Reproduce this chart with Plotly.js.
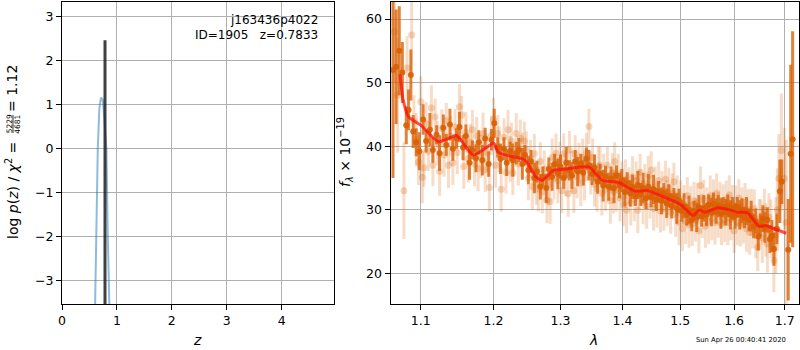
<!DOCTYPE html>
<html>
<head>
<meta charset="utf-8">
<script src="https://cdn.plot.ly/plotly-3.0.1.min.js"></script>
<style>html,body{margin:0;padding:0;background:#fff;}#chart{width:800px;height:350px;}</style>
</head>
<body>
<div id="chart"></div>
<script>
// ---- Left panel: redshift PDF ----
const zGrid  = [0.590, 0.603, 0.621, 0.652, 0.680, 0.694, 0.710, 0.725, 0.743, 0.770, 0.809, 0.834, 0.864, 0.880];
const logPz  = [-4.50, -3.55, -2.00, 0.00, 0.90, 1.10, 1.15, 1.13, 1.10, 0.70, 0.00, -2.00, -3.55, -4.50];
const zBest  = [0.7833, 0.7833];
const zBestLine = [-4.0, 2.45];
const leftXTicks = [0, 1, 2, 3, 4];
const leftYTicks = [-3, -2, -1, 0, 1, 2, 3];

// ---- Right panel: spectrum ----
const lamModel  = [1.073,1.077,1.084,1.100,1.124,1.148,1.154,1.171,1.189,1.200,1.206,1.214,1.231,1.246,1.254,1.262,1.272,1.289,1.300,1.345,1.367,1.385,1.396,1.410,1.422,1.443,1.460,1.471,1.501,1.523,1.535,1.544,1.569,1.590,1.607,1.626,1.648,1.662,1.678,1.703];
const fluxModel = [51.3,47.3,44.6,43.3,40.7,41.7,41.0,38.6,39.7,40.5,39.1,38.7,38.3,37.8,36.6,35.2,34.6,36.2,36.3,36.7,34.6,34.4,34.2,33.4,32.9,33.0,32.4,32.0,30.8,29.1,29.9,29.6,30.3,30.0,29.6,29.5,27.4,27.5,27.0,26.3];

const lamLight = [
  1.066,1.070,1.078,1.082,1.088,1.091,1.094,1.097,1.100,1.102,
  1.104,1.107,1.110,1.114,1.116,1.119,1.122,1.125,1.128,1.131,
  1.134,1.137,1.140,1.143,1.146,1.149,1.152,1.155,1.158,1.161,
  1.164,1.167,1.170,1.173,1.176,1.178,1.182,1.185,1.188,1.191,
  1.194,1.197,1.200,1.203,1.206,1.208,1.211,1.215,1.218,1.221,
  1.224,1.226,1.228,1.233,1.236,1.239,1.242,1.245,1.248,1.251,
  1.254,1.257,1.260,1.263,1.266,1.269,1.272,1.275,1.279,1.281,
  1.284,1.287,1.290,1.293,1.296,1.299,1.302,1.305,1.308,1.312,
  1.314,1.317,1.321,1.323,1.326,1.329,1.332,1.335,1.338,1.341,
  1.345,1.348,1.351,1.354,1.358,1.360,1.363,1.366,1.369,1.372,
  1.375,1.380,1.383,1.385,1.387,1.390,1.393,1.396,1.399,1.402,
  1.405,1.407,1.411,1.414,1.417,1.420,1.423,1.426,1.429,1.430,
  1.435,1.438,1.441,1.444,1.447,1.449,1.453,1.456,1.459,1.462,
  1.465,1.468,1.471,1.474,1.477,1.480,1.483,1.486,1.489,1.492,
  1.495,1.498,1.501,1.504,1.507,1.510,1.513,1.516,1.519,1.522,
  1.525,1.528,1.531,1.534,1.537,1.540,1.543,1.546,1.549,1.552,
  1.555,1.558,1.561,1.564,1.567,1.570,1.573,1.576,1.579,1.582,
  1.585,1.588,1.591,1.594,1.597,1.600,1.603,1.606,1.609,1.612,
  1.615,1.618,1.621,1.624,1.627,1.630,1.633,1.636,1.639,1.642,
  1.646,1.649,1.652,1.655,1.659,1.662,1.665,1.668,1.672,1.678,
  1.682,1.685,1.688,1.693,1.699,1.703];
const fluxLight = [
  58.0,48.0,33.0,52.3,57.5,44.0,41.0,37.5,47.0,35.1,
  36.6,43.5,39.2,46.0,37.0,44.6,40.5,36.0,42.8,38.6,
  44.0,37.0,41.6,37.4,43.0,39.0,46.2,44.9,36.8,42.2,
  38.0,40.6,42.6,37.2,41.6,36.5,38.4,42.0,36.3,39.0,
  33.5,41.7,44.2,37.0,42.0,39.5,33.2,41.4,35.9,42.6,
  38.0,40.8,35.8,42.0,37.2,41.2,38.5,40.8,39.4,35.0,
  38.0,33.6,38.8,34.2,33.2,37.6,32.8,36.4,31.5,34.0,
  31.3,38.2,35.0,38.9,34.6,37.8,33.0,38.8,35.6,32.5,
  39.4,36.0,33.0,38.8,35.2,37.4,34.2,38.2,35.0,39.0,
  43.1,35.8,38.2,34.0,33.3,36.8,37.0,32.6,35.6,33.2,
  37.0,31.4,35.8,32.8,37.6,33.2,35.6,31.8,34.6,30.8,
  34.8,29.9,33.8,31.0,35.2,31.6,34.6,29.9,33.2,35.9,
  31.2,34.2,30.6,35.4,32.0,36.2,30.2,33.6,30.8,34.6,
  29.8,33.0,30.2,34.8,31.0,33.4,29.6,32.6,34.4,29.2,
  32.2,28.0,31.6,27.0,30.8,28.0,32.2,27.6,30.6,27.8,
  31.4,28.4,31.0,26.7,33.8,29.0,31.6,27.4,30.6,28.2,
  32.2,28.6,31.8,28.0,32.6,29.2,31.4,27.8,30.8,28.4,
  31.6,28.0,32.3,28.6,31.0,26.7,30.6,28.0,31.8,27.6,
  30.4,28.2,31.2,27.0,30.0,26.4,29.6,27.0,30.2,26.0,
  24.1,28.6,28.0,25.6,29.9,26.8,24.6,28.8,27.0,22.0,
  26.0,30.0,34.9,39.3,34.9,28.0];
const errLight = [
  8.0,9.0,7.6,5.0,6.0,4.0,4.2,3.6,4.0,4.1,
  3.0,3.4,3.1,3.6,3.3,2.9,3.5,3.8,3.0,3.4,
  2.8,3.6,3.1,3.5,2.9,3.4,3.6,3.0,3.5,3.2,
  3.7,2.9,3.1,3.5,3.0,3.6,3.4,3.3,3.5,3.0,
  3.8,3.1,3.4,3.5,2.9,3.6,3.5,3.0,3.4,3.1,
  3.6,2.9,3.5,3.2,3.4,3.0,3.6,3.1,2.9,3.5,
  3.0,3.6,3.1,3.4,3.5,3.0,3.4,2.9,3.6,3.3,
  3.5,3.0,3.4,3.1,3.6,2.9,3.5,3.2,3.4,3.6,
  3.0,3.3,3.5,2.9,3.4,3.1,3.6,3.0,3.5,3.1,
  2.8,3.4,3.0,3.5,3.6,3.1,3.0,3.5,3.2,3.4,
  2.9,3.6,3.1,3.4,3.0,3.5,3.2,3.6,3.0,3.4,
  3.1,3.6,2.9,3.5,3.2,3.4,3.0,3.6,3.1,2.9,
  3.5,3.0,3.6,3.1,3.4,3.0,3.5,3.2,3.6,3.0,
  3.4,3.1,3.5,2.9,3.6,3.2,3.4,3.1,3.0,3.5,
  3.2,3.6,3.0,3.5,3.1,3.4,2.9,3.6,3.1,3.5,
  3.0,3.4,3.2,3.6,3.0,3.5,3.1,3.4,2.9,3.6,
  3.2,3.4,3.0,3.5,3.1,3.6,3.0,3.4,3.2,3.5,
  3.0,3.6,3.1,3.4,2.9,3.5,3.2,3.6,3.0,3.4,
  3.1,3.5,3.0,3.6,3.2,3.5,3.7,3.1,3.0,3.6,
  3.8,3.1,3.6,4.0,3.4,4.2,4.5,3.8,4.6,5.0,
  6.0,6.5,7.0,9.0,8.0,13.0];

const lamDark = [
  1.064,1.068,1.072,1.076,1.081,1.084,1.087,1.090,1.094,1.098,
  1.103,1.107,1.112,1.116,1.121,1.125,1.130,1.134,1.139,1.143,
  1.148,1.152,1.157,1.161,1.166,1.170,1.175,1.179,1.184,1.188,
  1.193,1.197,1.201,1.206,1.210,1.215,1.219,1.224,1.228,1.233,
  1.237,1.242,1.246,1.251,1.255,1.260,1.264,1.269,1.273,1.278,
  1.282,1.287,1.291,1.296,1.300,1.305,1.309,1.314,1.318,1.323,
  1.327,1.332,1.336,1.341,1.345,1.350,1.354,1.359,1.363,1.368,
  1.372,1.377,1.381,1.386,1.390,1.395,1.399,1.404,1.408,1.413,
  1.417,1.422,1.426,1.431,1.435,1.440,1.444,1.449,1.453,1.458,
  1.462,1.467,1.471,1.476,1.480,1.485,1.489,1.494,1.498,1.503,
  1.507,1.512,1.516,1.521,1.525,1.530,1.534,1.539,1.543,1.548,
  1.552,1.557,1.561,1.566,1.570,1.575,1.579,1.584,1.588,1.593,
  1.597,1.602,1.606,1.611,1.615,1.620,1.624,1.629,1.633,1.638,
  1.642,1.647,1.651,1.656,1.660,1.665,1.670,1.674,1.678,1.684,
  1.690,1.694,1.707,1.712,1.716];
const fluxDark = [
  52.0,52.5,55.0,51.6,43.3,45.7,51.2,42.3,40.6,39.2,
  44.2,40.8,42.6,39.4,41.8,38.9,42.9,40.2,43.4,39.6,
  41.2,43.0,39.8,41.6,37.4,39.4,38.1,40.6,37.8,41.2,
  37.2,41.0,43.6,39.8,38.0,39.6,37.4,39.2,37.8,38.9,
  39.4,37.2,38.6,36.2,37.6,35.0,36.0,33.6,35.2,33.4,
  36.4,35.2,37.2,35.6,36.8,35.0,37.4,36.2,35.4,37.6,
  36.0,37.2,35.8,38.0,37.0,35.6,36.6,34.4,35.6,33.8,
  35.2,33.6,34.9,33.4,35.4,33.8,34.6,32.8,34.2,32.6,
  33.6,32.2,33.9,32.4,33.4,31.8,33.6,32.0,33.2,31.6,
  32.8,31.4,32.6,31.0,32.2,30.6,31.8,30.2,31.4,29.8,
  30.6,29.2,30.0,28.4,29.8,28.8,30.4,29.0,30.2,29.2,
  30.8,29.6,30.9,29.8,30.6,29.4,30.4,29.6,30.6,29.2,
  30.2,29.0,30.4,29.2,29.9,28.8,29.8,28.4,29.0,27.4,
  28.2,25.8,27.6,28.6,27.2,28.4,25.4,25.9,23.8,27.0,
  32.9,34.4,23.7,38.8,41.1];
const errDark = [
  17.0,9.0,7.0,4.8,3.0,3.2,4.0,2.6,2.2,3.0,
  2.4,1.8,2.6,2.0,1.5,2.8,2.1,1.7,2.5,1.9,
  1.6,2.4,2.0,1.8,2.7,1.5,2.2,1.9,2.4,1.7,
  2.0,1.7,2.3,1.6,2.4,1.8,2.1,1.5,2.6,1.8,
  1.9,2.5,1.6,2.2,1.8,2.4,1.7,2.0,1.6,2.3,
  1.8,2.2,1.6,2.4,1.9,1.7,2.5,1.6,2.1,1.8,
  2.3,1.6,2.0,1.8,2.4,1.7,2.1,1.9,1.6,2.5,
  1.7,2.2,1.9,2.4,1.6,2.0,1.8,2.3,1.7,2.1,
  1.9,1.6,2.2,1.8,2.4,1.7,2.0,1.6,2.3,1.8,
  1.7,2.1,1.6,2.3,1.8,2.0,1.6,2.4,1.9,1.7,
  2.0,1.7,2.2,1.8,1.6,2.3,1.9,1.7,2.1,1.8,
  1.6,2.2,1.8,2.0,1.7,2.4,1.6,2.1,1.8,2.3,
  1.8,2.0,1.6,2.3,1.9,1.7,2.2,1.8,2.4,1.9,
  2.0,2.2,1.8,2.1,2.4,2.0,2.2,2.5,2.6,2.4,
  5.0,3.5,8.0,14.0,17.0];
const rightXTicks = [1.1, 1.2, 1.3, 1.4, 1.5, 1.6, 1.7];
const rightYTicks = [20, 30, 40, 50, 60];

const FONT = 'DejaVu Sans, sans-serif';
const W = 800, H = 350;
const px = v => v / W;
const py = v => 1 - v / H;

const traces = [
  {x: zGrid, y: logPz, xaxis: 'x', yaxis: 'y', mode: 'lines', type: 'scatter',
   line: {color: 'rgba(31,119,180,0.5)', width: 2}, hoverinfo: 'skip'},
  {x: zBest, y: zBestLine, xaxis: 'x', yaxis: 'y', mode: 'lines', type: 'scatter',
   line: {color: 'rgba(30,30,30,0.85)', width: 3}, hoverinfo: 'skip'},
  {x: lamLight, y: fluxLight, xaxis: 'x2', yaxis: 'y2', mode: 'markers', type: 'scatter',
   marker: {color: 'rgba(217,95,2,0.25)', size: 7, line: {width: 0}},
   error_y: {type: 'data', array: errLight, visible: true, color: 'rgba(217,95,2,0.22)', thickness: 3, width: 0},
   hoverinfo: 'skip'},
  {x: lamDark, y: fluxDark, xaxis: 'x2', yaxis: 'y2', mode: 'markers', type: 'scatter',
   marker: {color: 'rgba(217,95,2,0.9)', size: 6, line: {width: 0}},
   error_y: {type: 'data', array: errDark, visible: true, color: 'rgba(217,95,2,0.78)', thickness: 3, width: 0},
   hoverinfo: 'skip'},
  {x: lamModel, y: fluxModel, xaxis: 'x2', yaxis: 'y2', mode: 'lines', type: 'scatter',
   line: {color: 'rgba(255,10,10,0.72)', width: 3, shape: 'spline', smoothing: 0.6}, hoverinfo: 'skip'}
];

const axisCommon = {
  showgrid: true, gridcolor: '#b0b0b0', gridwidth: 1,
  showline: true, mirror: true, linecolor: '#000', linewidth: 1,
  ticks: 'outside', ticklen: 5, tickwidth: 1, tickcolor: '#000',
  zeroline: false, automargin: false, fixedrange: true,
  tickfont: {family: FONT, size: 12.5, color: '#000'}
};

const layout = {
  width: W, height: H,
  margin: {l: 0, r: 0, t: 0, b: 0, pad: 0},
  paper_bgcolor: '#fff', plot_bgcolor: '#fff',
  showlegend: false,
  font: {family: FONT, color: '#000'},
  xaxis: Object.assign({}, axisCommon, {domain: [px(62), px(334.3)], range: [0, 4.96], tickvals: leftXTicks, anchor: 'y'}),
  yaxis: Object.assign({}, axisCommon, {domain: [1 - 304.2 / H, 1 - 1.6 / H], range: [-3.54, 3.33], tickvals: leftYTicks, anchor: 'x'}),
  xaxis2: Object.assign({}, axisCommon, {domain: [px(390.5), px(798.5)], type: 'log', range: [0.02565, 0.23757],
    tickvals: rightXTicks, ticktext: rightXTicks.map(v => v.toFixed(1)), anchor: 'y2'}),
  yaxis2: Object.assign({}, axisCommon, {domain: [1 - 304.2 / H, 1 - 1.6 / H], range: [15.13, 62.75], tickvals: rightYTicks, anchor: 'x2'}),
  annotations: [
    {xref: 'paper', yref: 'paper', x: px(320), y: py(20), xanchor: 'right', yanchor: 'middle', showarrow: false,
     text: 'j163436p4022', font: {family: FONT, size: 12}},
    {xref: 'paper', yref: 'paper', x: px(320), y: py(35), xanchor: 'right', yanchor: 'middle', showarrow: false,
     text: 'ID=1905\u00a0\u00a0\u00a0z=0.7833', font: {family: FONT, size: 12}},
    {xref: 'paper', yref: 'paper', x: px(197), y: py(340), xanchor: 'center', yanchor: 'middle', showarrow: false,
     text: '<i>z</i>', font: {family: FONT, size: 14}},
    {xref: 'paper', yref: 'paper', x: px(593), y: py(340), xanchor: 'center', yanchor: 'middle', showarrow: false,
     text: '<i>λ</i>', font: {family: FONT, size: 14}},
    {xref: 'paper', yref: 'paper', x: px(12), y: py(191), xanchor: 'center', yanchor: 'middle', showarrow: false, textangle: -90,
     text: 'log <i>p</i>(<i>z</i>) / <i>χ</i><sup>2</sup> =', font: {family: FONT, size: 14}},
    {xref: 'paper', yref: 'paper', x: px(9.3), y: py(124), xanchor: 'center', yanchor: 'middle', showarrow: false, textangle: -90,
     text: '5229', font: {family: FONT, size: 7.5}},
    {xref: 'paper', yref: 'paper', x: px(16.8), y: py(124), xanchor: 'center', yanchor: 'middle', showarrow: false, textangle: -90,
     text: '4681', font: {family: FONT, size: 7.5}},
    {xref: 'paper', yref: 'paper', x: px(12), y: py(89), xanchor: 'center', yanchor: 'middle', showarrow: false, textangle: -90,
     text: '= 1.12', font: {family: FONT, size: 14}},
    {xref: 'paper', yref: 'paper', x: px(345), y: py(152), xanchor: 'center', yanchor: 'middle', showarrow: false, textangle: -90,
     text: '<i>f</i><sub><i>λ</i></sub> × 10<sup>−19</sup>', font: {family: FONT, size: 14}},
    {xref: 'paper', yref: 'paper', x: px(788), y: py(339.5), xanchor: 'right', yanchor: 'middle', showarrow: false,
     text: 'Sun Apr 26 00:40:41 2020', font: {family: FONT, size: 6.8}}
  ],
  shapes: [
    {type: 'line', xref: 'paper', yref: 'paper', x0: px(13), x1: px(13), y0: py(115), y1: py(133),
     line: {color: '#000', width: 0.8}}
  ]
};

Plotly.newPlot('chart', traces, layout, {displayModeBar: false, staticPlot: true});
</script>
</body>
</html>
